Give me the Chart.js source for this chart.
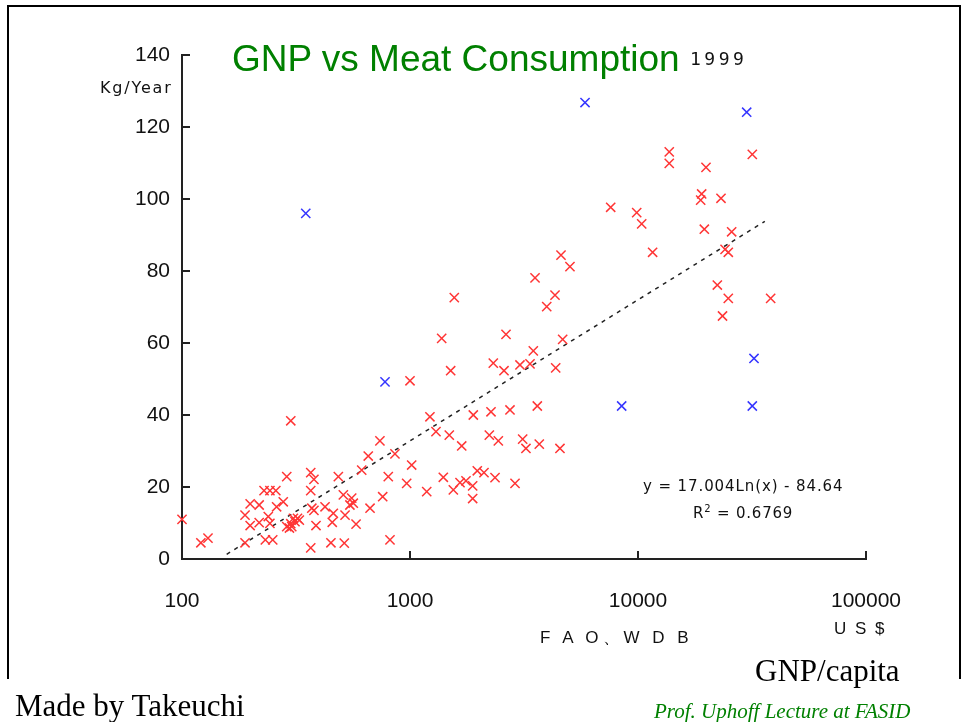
<!DOCTYPE html>
<html>
<head>
<meta charset="utf-8">
<script src="https://cdn.jsdelivr.net/npm/chart.js@4/dist/chart.umd.min.js"></script>
<style>
  body { margin: 0; background: #fff; }
  #wrap { position: relative; width: 963px; height: 722px; overflow: hidden; }
  #frame { position: absolute; left: 7px; top: 5px; width: 950px; height: 672px;
           border-left: 2px solid #000; border-top: 2px solid #000; border-right: 2px solid #000; }
  canvas { position: absolute; left: 0; top: 0; }
  .t { position: absolute; white-space: nowrap; line-height: 1; }
</style>
</head>
<body>
<div id="wrap">
  <div id="frame"></div>
  <canvas id="c" width="963" height="722"></canvas>
  <div class="t" style="left:232px;top:38px;font:37px 'Liberation Sans',Arial;color:#008000;">GNP vs Meat Consumption</div>
  <div class="t" style="left:690px;top:48px;font:18px 'DejaVu Sans Mono';letter-spacing:3.5px;color:#111;">1999</div>
  <div class="t" style="left:100px;top:78px;font:16px 'DejaVu Sans';letter-spacing:1.8px;color:#111;">Kg/Year</div>
  <div class="t" style="left:643px;top:477px;font:15px 'DejaVu Sans';letter-spacing:0.9px;color:#111;">y = 17.004Ln(x) - 84.64</div>
  <div class="t" style="left:693px;top:503px;font:15px 'DejaVu Sans';letter-spacing:0.8px;color:#111;">R<sup style="font-size:10px">2</sup> = 0.6769</div>
  <div class="t" style="left:540px;top:626px;font:17px 'Liberation Sans';letter-spacing:4px;color:#111;">F A O、W D B</div>
  <div class="t" style="left:834px;top:619px;font:17px 'Liberation Sans';letter-spacing:2px;color:#111;">U S $</div>
  <div class="t" style="left:755px;top:653px;font:31px 'Liberation Serif';color:#000;">GNP/capita</div>
  <div class="t" style="left:15px;top:688px;font:31px 'Liberation Serif';color:#000;">Made by Takeuchi</div>
  <div class="t" style="left:654px;top:699px;font:italic 21px 'Liberation Serif';color:#008000;">Prof. Uphoff Lecture at FASID</div>
</div>
<script>
// countries, GNP per capita (US$) vs meat consumption (kg/year)
const redX = [100, 121, 130, 189, 189, 199, 218, 199, 218, 232, 250, 229, 243, 258,
  239, 243, 260, 278, 288, 288, 300, 303, 313, 321, 327, 308, 300, 296,
  367, 379, 367, 371, 379, 367, 387, 424, 461, 456, 450, 485, 515,
  510, 555, 564, 545, 519, 580, 614, 656, 668, 738, 759, 803, 817, 859, 967, 1017, 1000,
  1564, 4325, 3978, 1377, 2637, 4673, 3474, 2319, 2584, 3036, 3360, 4355, 1508,
  3617, 2745, 2266, 1895, 1223, 1300, 1487, 1686, 2228, 2440, 3120, 3225, 3690, 4547,
  1184, 1400, 1549, 1657, 1760, 1883, 1883, 1973, 2111, 2360, 2888,
  4595, 5030, 3535, 13710, 13710, 31720, 19870, 19020, 18830, 23120, 7590, 9870, 10380,
  19540, 25750, 11590, 24090, 24890, 22280, 24890, 38180, 23480];
const redY = [11, 4.5, 5.8, 4.5, 12.2, 15.3, 15, 9.3, 10.1, 5.3, 5.3, 19, 19, 19,
  11.8, 9.9, 14.5, 15.9, 22.9, 9, 38.4, 9, 10.4, 11.3, 10.8, 11.3, 9.8, 8.6,
  24, 22.1, 19, 14.1, 13.5, 3.1, 9.3, 14.5, 12.7, 10.2, 4.5, 22.9, 4.4,
  17.8, 16.9, 15.5, 15, 12.2, 9.7, 24.7, 28.6, 14.1, 32.8, 17.3, 22.9, 5.3, 29.2, 21, 26.1, 49.5,
  72.6, 73.3, 70.1, 61.3, 62.4, 61, 57.8, 54.4, 52.3, 53.9, 54.2, 53.1, 52.3,
  42.5, 41.4, 40.9, 40, 39.5, 35.4, 34.4, 31.4, 34.4, 32.8, 33.3, 30.7, 31.9, 30.7,
  18.7, 22.7, 19.2, 21.2, 21.7, 20.3, 16.8, 24.5, 24, 22.6, 21,
  84.4, 81.2, 78.1, 113.1, 109.9, 112.4, 108.8, 101.4, 99.7, 100.2, 97.7, 96.2, 93.1,
  91.6, 90.9, 85.2, 86, 85.2, 76.1, 72.4, 72.4, 67.5];
const blueX = [5857, 29970, 349, 777, 8480, 32270, 31720];
const blueY = [126.8, 124.1, 96, 49.2, 42.5, 55.7, 42.5];
// log trend line end points
const trendX = [157, 36000];
const trendY = [1.3, 93.8];
const xTicks = [100, 1000, 10000, 100000];
const yTicks = [0, 20, 40, 60, 80, 100, 120, 140];

const pts = (xs, ys) => xs.map((x, i) => ({ x: x, y: ys[i] }));

const innerTicks = {
  id: 'innerTicks',
  afterDraw(chart) {
    const ctx = chart.ctx, xs = chart.scales.x, ys = chart.scales.y;
    ctx.save();
    ctx.strokeStyle = '#222';
    ctx.lineWidth = 2;
    ctx.beginPath();
    xTicks.forEach(v => {
      const p = Math.round(xs.getPixelForValue(v));
      ctx.moveTo(p, ys.bottom); ctx.lineTo(p, ys.bottom - 8);
    });
    yTicks.forEach(v => {
      const p = Math.round(ys.getPixelForValue(v));
      ctx.moveTo(xs.left, p); ctx.lineTo(xs.left + 8, p);
    });
    ctx.stroke();
    ctx.restore();
  }
};

new Chart(document.getElementById('c'), {
  type: 'scatter',
  data: {
    datasets: [
      { data: pts(redX, redY), pointStyle: 'crossRot', radius: 6.5, borderWidth: 1.5, borderColor: '#ff3535', backgroundColor: '#ff3535', clip: false },
      { data: pts(blueX, blueY), pointStyle: 'crossRot', radius: 6.5, borderWidth: 1.5, borderColor: '#3535ff', backgroundColor: '#3535ff', clip: false },
      { type: 'line', data: pts(trendX, trendY), showLine: true, pointRadius: 0, borderColor: '#222', borderWidth: 1.5, borderDash: [4, 5], fill: false }
    ]
  },
  options: {
    responsive: false,
    animation: false,
    events: [],
    layout: { padding: { left: 0, top: 55, right: 97, bottom: 0 } },
    plugins: { legend: { display: false }, tooltip: { enabled: false } },
    scales: {
      x: {
        type: 'logarithmic', min: 100, max: 100000,
        afterBuildTicks: s => { s.ticks = xTicks.map(v => ({ value: v })); },
        afterFit: s => { s.height = 163; },
        ticks: { color: '#111', font: { family: 'Liberation Sans', size: 21 }, padding: 30, maxRotation: 0, autoSkip: false,
                 callback: v => String(v) },
        grid: { drawOnChartArea: false, drawTicks: false },
        border: { color: '#222', width: 2 }
      },
      y: {
        min: 0, max: 140,
        afterBuildTicks: s => { s.ticks = yTicks.map(v => ({ value: v })); },
        afterFit: s => { s.width = 182; },
        ticks: { color: '#111', font: { family: 'Liberation Sans', size: 21 }, padding: 12 },
        grid: { drawOnChartArea: false, drawTicks: false },
        border: { color: '#222', width: 2 }
      }
    }
  },
  plugins: [innerTicks]
});
</script>
</body>
</html>
